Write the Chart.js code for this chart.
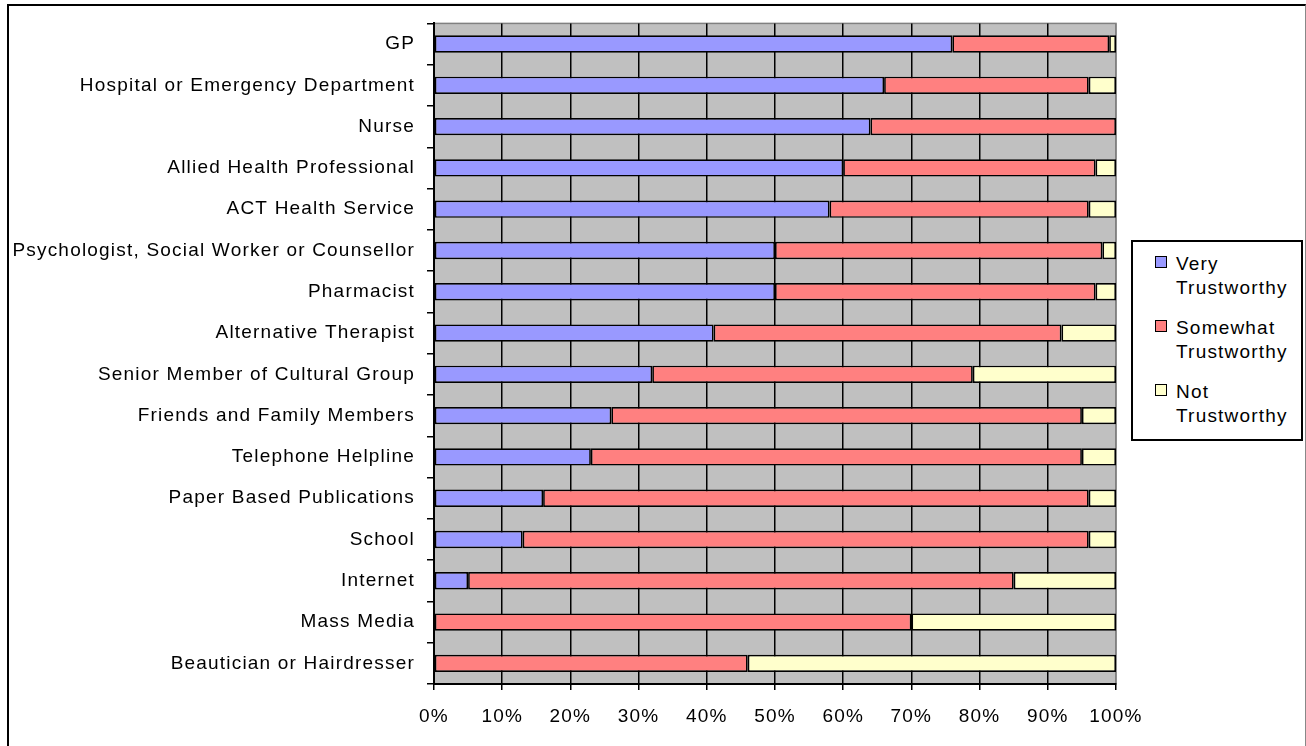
<!DOCTYPE html>
<html>
<head>
<meta charset="utf-8">
<script src="https://cdn.jsdelivr.net/npm/chart.js@4.4.1/dist/chart.umd.min.js"></script>
<style>
  html, body { margin: 0; padding: 0; background: #fff; overflow: hidden; }
  #wrap { position: relative; width: 1306px; height: 746px; }
  #frame {
    position: absolute; left: 7px; top: 4px; width: 1296px; height: 800px;
    border-left: 2px solid #000; border-top: 2px solid #000; border-right: 1px solid #888;
    pointer-events: none;
  }
  #legend {
    position: absolute; left: 1131px; top: 240px; width: 168px; height: 197px;
    border: 2px solid #000; background: #fff;
    font-family: 'Liberation Sans', Arial, sans-serif; font-size: 19px; letter-spacing: 1.2px;
    line-height: 24px; color: #000;
  }
  .item { position: absolute; left: 43px; width: 122px; }
  .sw { position: absolute; left: -21px; top: 4px; width: 10px; height: 10px; border: 1.5px solid #000; }
</style>
</head>
<body>
<div id="wrap">
  <canvas id="chart" width="1306" height="746"></canvas>
  <div id="frame"></div>
  <div id="legend"></div>
</div>
<script>
// categories, top to bottom
const categories = [
    'GP',
    'Hospital or Emergency Department',
    'Nurse',
    'Allied Health Professional',
    'ACT Health Service',
    'Psychologist, Social Worker or Counsellor',
    'Pharmacist',
    'Alternative Therapist',
    'Senior Member of Cultural Group',
    'Friends and Family Members',
    'Telephone Helpline',
    'Paper Based Publications',
    'School',
    'Internet',
    'Mass Media',
    'Beautician or Hairdresser'
];

// percentages
const veryTrust     = [76, 66, 64, 60, 58, 50, 50, 41, 32, 26, 23, 16, 13, 5, 0, 0];
const somewhatTrust = [23, 30, 36, 37, 38, 48, 47, 51, 47, 69, 72, 80, 83, 80, 70, 46];
const notTrust      = [1, 4, 0, 3, 4, 2, 3, 8, 21, 5, 5, 4, 4, 15, 30, 54];

const seriesNames  = ['Very Trustworthy', 'Somewhat Trustworthy', 'Not Trustworthy'];
const seriesColors = ['#9999FF', '#FF8080', '#FFFFCC'];
const xTicks = [0, 10, 20, 30, 40, 50, 60, 70, 80, 90, 100];

const FONT = "'Liberation Sans', Arial, sans-serif";
Chart.defaults.font.family = FONT;
Chart.defaults.font.size = 19;
Chart.defaults.color = '#000';

// Excel-ish letter spacing on the canvas text, plus grey plot background
const plotBg = {
    id: 'plotBg',
    beforeLayout(chart) { chart.ctx.letterSpacing = '1.2px'; },
    beforeDraw(chart) {
        chart.ctx.letterSpacing = '1.2px';
        const a = chart.chartArea, ctx = chart.ctx;
        ctx.save();
        ctx.fillStyle = '#C0C0C0';
        ctx.fillRect(a.left, a.top, a.right - a.left, a.bottom - a.top);
        ctx.strokeStyle = '#808080';
        ctx.lineWidth = 1.5;
        ctx.strokeRect(a.left, a.top, a.right - a.left, a.bottom - a.top);
        ctx.restore();
    }
};

const data = [veryTrust, somewhatTrust, notTrust];

new Chart(document.getElementById('chart'), {
    type: 'bar',
    data: {
        labels: categories,
        datasets: data.map((d, i) => ({
            label: seriesNames[i],
            data: d,
            backgroundColor: seriesColors[i],
            borderColor: '#000',
            borderWidth: 1.7,
            borderSkipped: false,
            barPercentage: 0.42,
            categoryPercentage: 1,
        })),
    },
    options: {
        indexAxis: 'y',
        responsive: false,
        animation: false,
        layout: { padding: { top: 22, right: 190, left: 0, bottom: 0 } },
        plugins: { legend: { display: false }, tooltip: { enabled: false } },
        scales: {
            x: {
                stacked: true, min: 0, max: 100,
                afterBuildTicks: s => { s.ticks = xTicks.map(v => ({ value: v })); },
                afterFit: s => { s.height = 62; },
                border: { color: '#000', width: 2 },
                grid: {
                    color: c => c.index === xTicks.length - 1 ? '#808080' : '#000',
                    tickColor: '#000', lineWidth: 1.5, tickLength: 6,
                },
                ticks: { padding: 15, maxRotation: 0, callback: v => v + '%' },
            },
            y: {
                stacked: true,
                afterFit: s => { s.width = 434; },
                border: { color: '#000', width: 2 },
                grid: { offset: true, drawOnChartArea: false, tickColor: '#000', lineWidth: 1.5, tickLength: 7 },
                ticks: { padding: 12, autoSkip: false },
            },
        },
    },
    plugins: [plotBg],
});

// legend
const legend = document.getElementById('legend');
const itemTops = [10, 74, 138];
seriesNames.forEach((n, i) => {
    const it = document.createElement('div');
    it.className = 'item';
    it.style.top = itemTops[i] + 'px';
    it.innerHTML = `<span class="sw" style="background:${seriesColors[i]}"></span>${n}`;
    legend.appendChild(it);
});
</script>
</body>
</html>
